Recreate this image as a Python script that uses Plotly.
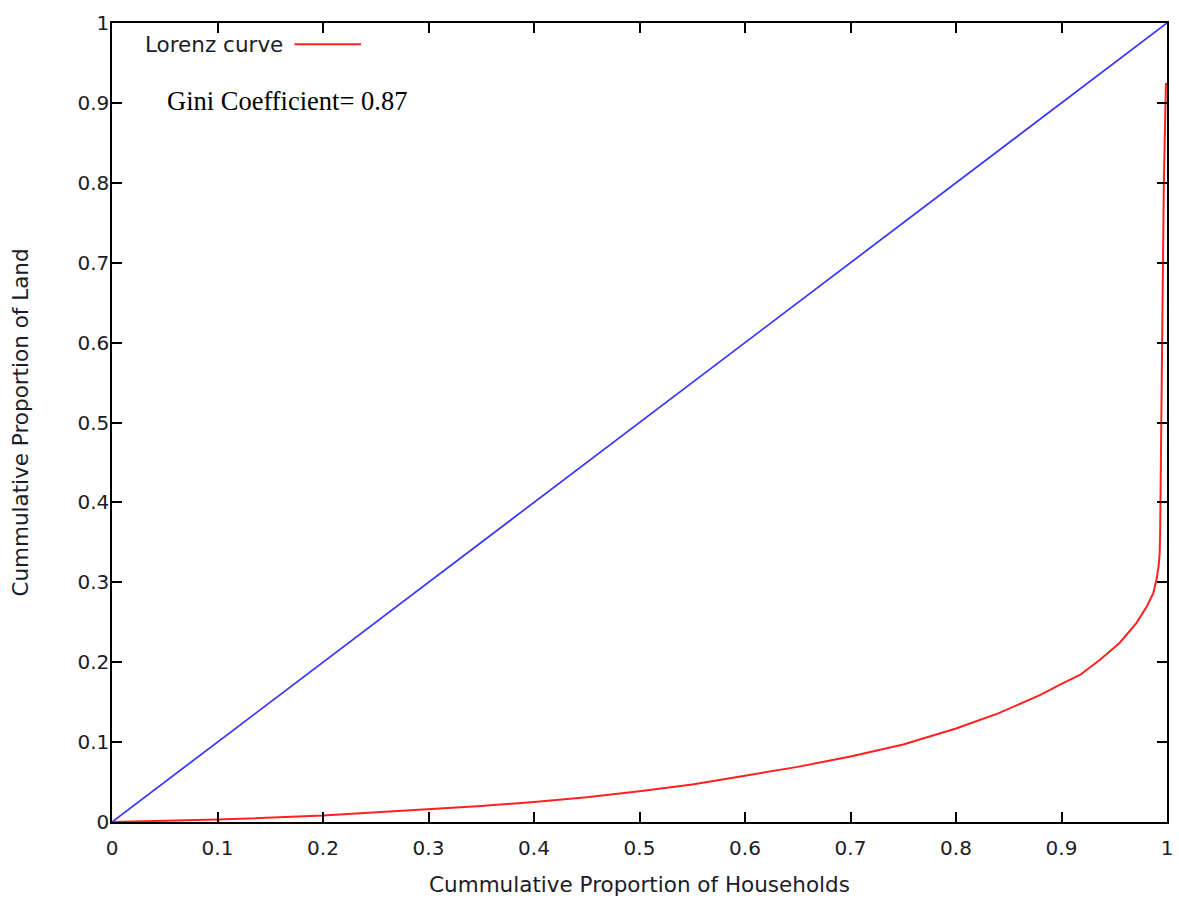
import plotly.graph_objects as go

# Data
equality_x = [0, 1]
equality_y = [0, 1]

lorenz_x = [0, 0.1, 0.2, 0.3, 0.35, 0.4, 0.45, 0.5, 0.55, 0.6, 0.65, 0.7, 0.75, 0.8,
            0.84, 0.88, 0.9, 0.9175, 0.9365, 0.955, 0.971, 0.981, 0.987, 0.990,
            0.992, 0.993, 0.9935, 0.995, 0.997, 0.999]
lorenz_y = [0, 0.003, 0.008, 0.016, 0.020, 0.025, 0.031, 0.0385, 0.047, 0.058, 0.069,
            0.082, 0.097, 0.117, 0.136, 0.159, 0.173, 0.184, 0.203, 0.224, 0.249,
            0.270, 0.2865, 0.303, 0.32, 0.335, 0.36, 0.55, 0.8, 0.925]

tick_vals = [0, 0.1, 0.2, 0.3, 0.4, 0.5, 0.6, 0.7, 0.8, 0.9, 1]
tick_text = ["0", "0.1", "0.2", "0.3", "0.4", "0.5", "0.6", "0.7", "0.8", "0.9", "1"]

legend_label = "Lorenz curve"
gini_label = "Gini Coefficient= 0.87"

SANS = "DejaVu Sans"
TXT = "#1c1c28"

fig = go.Figure()
fig.add_trace(go.Scatter(x=equality_x, y=equality_y, mode="lines",
                         line=dict(color="#3333ff", width=1.7), showlegend=False,
                         name="Equality"))
fig.add_trace(go.Scatter(x=lorenz_x, y=lorenz_y, mode="lines",
                         line=dict(color="#ff2020", width=2), showlegend=False,
                         name=legend_label))

axis_common = dict(
    range=[0, 1], showgrid=False, zeroline=False, automargin=False,
    showline=True, linecolor="black", linewidth=1.5, mirror="allticks",
    ticks="inside", ticklen=10, tickwidth=1.5, tickcolor="black",
    tickvals=tick_vals, ticktext=tick_text,
    tickfont=dict(family=SANS, size=20, color=TXT),
)

fig.update_layout(
    width=1179, height=898,
    margin=dict(l=112, r=12, t=23, b=76),
    paper_bgcolor="white", plot_bgcolor="white",
    xaxis=dict(**axis_common, ticklabelstandoff=7,
               title=dict(text="Cummulative Proportion of Households",
                          font=dict(family=SANS, size=21.5, color=TXT), standoff=18)),
    yaxis=dict(**axis_common, ticklabelstandoff=-3,
               title=dict(text="Cummulative Proportion of Land",
                          font=dict(family=SANS, size=21.5, color=TXT), standoff=43)),
    showlegend=False,
)

# Gnuplot-style key: text followed by line sample
fig.add_annotation(xref="paper", yref="paper", x=0.029, y=0.973, xanchor="left",
                   yanchor="middle", text=legend_label, showarrow=False,
                   font=dict(family=SANS, size=21.5, color=TXT))
fig.add_shape(type="line", xref="paper", yref="paper", x0=0.173, x1=0.236,
              y0=0.9735, y1=0.9735, line=dict(color="#ff2020", width=2))

fig.add_annotation(xref="paper", yref="paper", x=0.05, y=0.902, xanchor="left",
                   yanchor="middle", text=gini_label, showarrow=False,
                   font=dict(family="Liberation Serif", size=26.5, color="black"))

fig.write_html("out.html", config={"displayModeBar": False},
               post_script="document.body.style.margin='0';document.body.style.overflow='hidden';")
